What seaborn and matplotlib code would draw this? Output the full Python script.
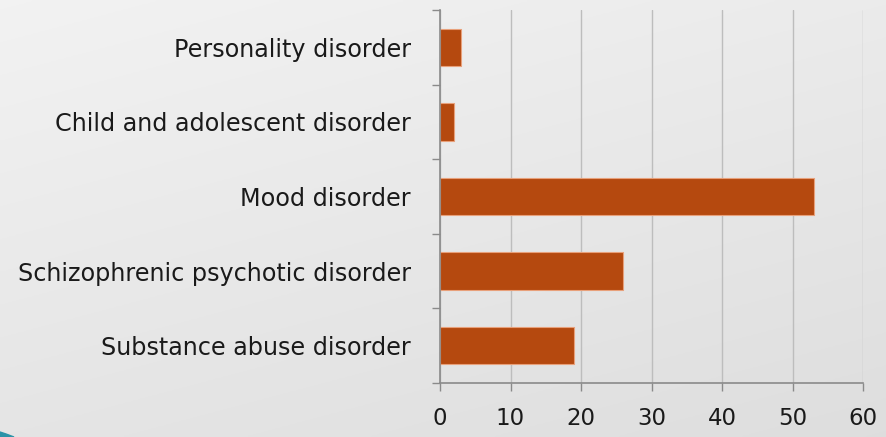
import matplotlib
matplotlib.use("Agg")
import matplotlib.pyplot as plt
from matplotlib.patches import Polygon
import seaborn as sns
import pandas as pd
import numpy as np

categories = ["Personality disorder", "Child and adolescent disorder", "Mood disorder",
              "Schizophrenic psychotic disorder", "Substance abuse disorder"]
values = [3, 2, 53, 26, 19]
x_ticks = [0, 10, 20, 30, 40, 50, 60]

sns.set_theme(style="white")
plt.rcParams['font.family'] = ['DejaVu Sans']

W, H = 886, 437
fig = plt.figure(figsize=(W / 100, H / 100), dpi=100)

# subtle gradient background
bg = fig.add_axes([0, 0, 1, 1], zorder=-10)
yy, xx = np.mgrid[0:1:200j, 0:1:400j]
t = 0.65 * yy + 0.35 * xx
c0, c1 = np.array([0.950, 0.950, 0.950]), np.array([0.870, 0.870, 0.870])
img = c0[None, None, :] * (1 - t[..., None]) + c1[None, None, :] * t[..., None]
bg.imshow(img, extent=[0, 1, 0, 1], aspect='auto', origin='upper')
bg.axis('off')
bg.add_patch(Polygon([[0, 0], [0, 5 / H], [6 / W, 3 / H], [14 / W, 0]], closed=True,
                     transform=bg.transAxes, color="#2b93a8"))

ax = fig.add_axes([440 / W, 1 - 383 / H, (863 - 440) / W, (383 - 10) / H])
ax.patch.set_alpha(0)
df = pd.DataFrame({"category": categories, "value": values})
sns.barplot(data=df, x="value", y="category", orient="h", color="#B5490F", width=0.5,
            saturation=1, edgecolor="#E8A07A", linewidth=0.8, ax=ax)
ax.set_xlim(0, 60)
ax.set_ylim(4.5, -0.5)
ax.set_xticks(x_ticks)
ax.set_xticklabels([str(v) for v in x_ticks])
ax.set_xlabel("")
ax.set_ylabel("")
ax.xaxis.grid(True, color="#bdbdbd", linewidth=1.0)
ax.yaxis.grid(False)
ax.set_axisbelow(True)

for s in ["top", "right"]:
    ax.spines[s].set_visible(False)
for s in ["left", "bottom"]:
    ax.spines[s].set_color("#8a8a8a")
    ax.spines[s].set_linewidth(1.2)

ax.tick_params(axis="y", which="major", left=False, length=0, pad=21, labelsize=17.2,
               labelcolor="#1a1a1a")
ax.set_yticks(np.arange(-0.5, 5.0, 1.0), minor=True)
ax.tick_params(axis="y", which="minor", left=True, length=6, width=1, color="#8a8a8a",
               direction="out")
ax.tick_params(axis="x", which="major", bottom=True, length=6, width=1, color="#8a8a8a",
               direction="out", pad=11, labelsize=16.5, labelcolor="#1a1a1a")

fig.savefig("out.png", dpi=100)
